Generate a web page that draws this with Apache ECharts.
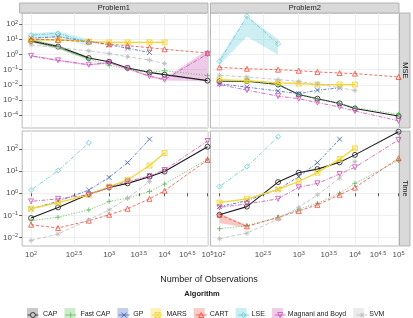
<!DOCTYPE html>
<html>
<head>
<meta charset="utf-8">
<script src="https://cdn.jsdelivr.net/npm/echarts@6/dist/echarts.min.js"></script>
<style>
  html, body { margin: 0; padding: 0; background: #fff; }
  #chart { width: 413px; height: 318px; }
</style>
</head>
<body>
<div id="chart"></div>
<script>
// sample sizes and algorithms
const nObs = [100, 200, 500, 1000, 2000, 5000, 10000, 100000]
const algorithms = ['CAP', 'Fast CAP', 'GP', 'MARS', 'CART', 'LSE', 'Magnani and Boyd', 'SVM']
const xTickExps = [2, 2.5, 3, 3.5, 4, 4.5, 5]
const mseTickExps = [-4, -3, -2, -1, 0, 1, 2]
const timeTickExps = [-2, -1, 0, 1, 2]

// one row per algorithm (same order as above); shorter rows = not run for big n
const mseProblem1 = [
  [7.8, 3.3, 0.58, 0.33, 0.13, 0.066, 0.047, 0.019],
  [9.1, 3.0, 0.50, 0.19, 0.11, 0.066, 0.085, 0.041],
  [11.7, 14.8, 7.1, 4.3, 2.6, 1.35],
  [9.1, 9.1, 7.1, 6.3, 6.3, 6.3, 6.3],
  [10, 9.1, 7.1, 4.7, 3.8, 2.8, 2.2, 1.23],
  [19, 24.5, 6.0],
  [0.81, 0.41, 0.21, 0.29, 0.12, 0.037, 0.022, 1.1],
  [4.3, 2.8, 1.74, 1.15, 0.71, 0.43, 0.25]
]
const mseProblem2 = [
  [0.0174, 0.0174, 0.0105, 0.0023, 0.00123, 0.0006, 0.00028, 0.000089],
  [0.0174, 0.0174, 0.0105, 0.0023, 0.00123, 0.0006, 0.00032, 0.000115],
  [0.0117, 0.0071, 0.0039, 0.0026, 0.0045, 0.0063],
  [0.0224, 0.019, 0.0135, 0.0123, 0.0105, 0.0105, 0.0105],
  [0.141, 0.115, 0.1, 0.085, 0.071, 0.06, 0.055, 0.033],
  [0.35, 331, 5.0],
  [0.0105, 0.0045, 0.0018, 0.00123, 0.00068, 0.00035, 0.00019, 0.000043],
  [0.043, 0.033, 0.0224, 0.0166, 0.0117, 0.0063, 0.0043]
]
const timeProblem1 = [
  [0.076, 0.23, 0.91, 1.82, 2.8, 5.6, 9.5, 126],
  [0.058, 0.083, 0.178, 0.43, 0.60, 1.2, 2.6, 35],
  [0.2, 0.43, 1.4, 5.2, 24, 275],
  [0.2, 0.38, 0.85, 2.0, 4.0, 17.8, 65],
  [0.038, 0.027, 0.058, 0.107, 0.2, 0.56, 1.3, 32],
  [1.4, 10.5, 190],
  [0.43, 0.56, 0.85, 1.82, 3.4, 6.0, 11.2, 229],
  [0.0074, 0.0145, 0.063, 0.178, 0.6, 3.4]
]
const timeProblem2 = [
  [0.107, 0.25, 3.2, 8.5, 12.3, 25, 54, 600],
  [0.025, 0.035, 0.081, 0.19, 0.35, 1.0, 2.8, 30],
  [0.25, 0.46, 1.5, 5.6, 24, 275],
  [0.38, 0.56, 1.5, 3.4, 8.5, 35, 107],
  [0.107, 0.032, 0.081, 0.16, 0.3, 0.85, 1.8, 38],
  [2.0, 15.8, 355],
  [0.23, 0.33, 0.56, 1.86, 2.8, 7.4, 14.8, 257],
  [0.0089, 0.0158, 0.068, 0.23, 0.85, 4.8, 27]
]

// confidence ribbons that are wide enough to see (low / high)
const capBandLowMse1 = [6.3, 2.6, 0.5]
const capBandHighMse1 = [9.5, 4.1, 0.68]
const fastBandLowMse1 = [7.5, 2.3, 0.42]
const fastBandHighMse1 = [11, 3.8, 0.6]
const marsBandLowMse1 = [8, 8, 6.5, 5.8, 5.8, 5.8, 5.8]
const marsBandHighMse1 = [10.3, 10.3, 7.8, 6.9, 6.9, 6.9, 6.9]
const lseBandLowMse1 = [10, 13.5, 3.6]
const lseBandHighMse1 = [25, 32, 10]
const mbBandLowMse1 = [0.7, 0.36, 0.18, 0.25, 0.1, 0.032, 0.019, 0.017]
const mbBandHighMse1 = [0.93, 0.47, 0.24, 0.33, 0.14, 0.043, 0.026, 2.0]
const lseBandLowMse2 = [0.21, 14.8, 0.95]
const lseBandHighMse2 = [0.58, 331, 10]
const cartBandLowTime2 = [0.045, 0.028]
const cartBandHighTime2 = [0.126, 0.036]

const colors = ['#1A1A1A', '#5DBA5B', '#3A5DBA', '#F4D531', '#EE4A3B', '#5BC9D6', '#C64FB3', '#BDBDBD']
const tints = ['#C9C9C9', '#CDEBCD', '#C5CFEB', '#FCF1BF', '#F9CCC6', '#CBEEF2', '#EFCDE9', '#EBEBEB']
const dashes = ['solid', [1.2, 1.5], [3, 1.5, 1, 1.5], 'solid', [3, 2], [1, 1.5, 4, 1.5], [1, 1.5, 4, 1.5], [4, 2]]
const widths = [1.1, 0.8, 0.8, 1.3, 0.8, 0.8, 0.8, 0.8]
const symbols = [
  'circle',
  'path://M5,0L5,10M0,5L10,5',
  'path://M0,0L10,10M10,0L0,10',
  'path://M0,0L10,0L10,10L0,10ZM0,0L10,10M10,0L0,10',
  'triangle',
  'diamond',
  'path://M0,0L10,0L5,9Z',
  'path://M5,0L5,10M0,5L10,5M1.5,1.5L8.5,8.5M8.5,1.5L1.5,8.5'
]
// legend keys: a short line with the marker on it (11 x 5 box)
const keyIcons = [
  'path://M0,2.5L3,2.5M8,2.5L11,2.5M3,2.5A2.5,2.5,0,1,1,8,2.5A2.5,2.5,0,1,1,3,2.5',
  'path://M0,2.5L11,2.5M5.5,0L5.5,5',
  'path://M0,2.5L11,2.5M3,0L8,5M8,0L3,5',
  'path://M0,2.5L11,2.5M3,0L8,0L8,5L3,5ZM3,0L8,5M8,0L3,5',
  'path://M0,2.5L11,2.5M5.5,0L8,5L3,5Z',
  'path://M0,2.5L11,2.5M5.5,0L8,2.5L5.5,5L3,2.5Z',
  'path://M0,2.5L11,2.5M3,0L8,0L5.5,5Z',
  'path://M0,2.5L11,2.5M5.5,0L5.5,5M3.7,0.7L7.3,4.3M7.3,0.7L3.7,4.3'
]

const font = 'Liberation Sans, Arial, sans-serif'
const chart = echarts.init(document.getElementById('chart'), null, { renderer: 'canvas' })

// x axis is log10 n drawn on a log scale
function xPos(n) {
  return Math.log10(Math.log10(n))
}
function sup(exp) {
  return '{b|10}{s|' + String(exp).replace('-', '\u2212') + '}'
}
const supRich = {
  b: { fontSize: 8, color: '#4D4D4D', fontFamily: font },
  s: { fontSize: 5.5, color: '#4D4D4D', fontFamily: font, padding: [0, 0, 4, 0] }
}

const gridPos = [
  { left: 19.5, top: 13 },
  { left: 210.5, top: 13 },
  { left: 19.5, top: 131 },
  { left: 210.5, top: 131 }
]
const grids = gridPos.map(g => ({
  left: g.left, top: g.top, width: 188.5, height: 115,
  show: true, backgroundColor: '#fff', borderColor: '#A6A6A6', borderWidth: 0.8
}))

const xTickVals = xTickExps.map(e => Math.log10(e))
const xAxes = [0, 1, 2, 3].map(i => {
  const bottom = i >= 2
  return {
    type: 'value', gridIndex: i, min: 0.281, max: 0.700,
    axisLine: { show: false },
    axisTick: { show: bottom, customValues: xTickVals, length: 3, lineStyle: { color: '#333', width: 0.8 } },
    axisLabel: {
      show: bottom, customValues: xTickVals, margin: 4, rich: supRich,
      formatter: v => sup(Math.round(Math.pow(10, v) * 10) / 10)
    },
    splitLine: { show: true, lineStyle: { color: '#EBEBEB', width: 0.8 } }
  }
})
const yAxes = [0, 1, 2, 3].map(i => {
  const left = i % 2 === 0
  const isMse = i < 2
  const ticks = isMse ? mseTickExps : timeTickExps
  return {
    type: 'value', gridIndex: i,
    min: isMse ? -4.84 : -2.38, max: isMse ? 2.73 : 2.81,
    axisLine: { show: false },
    axisTick: { show: left, customValues: ticks, length: 3, lineStyle: { color: '#333', width: 0.8 } },
    axisLabel: { show: left, customValues: ticks, margin: 4, rich: supRich, formatter: v => sup(v) },
    splitLine: { show: true, lineStyle: { color: '#EBEBEB', width: 0.8 } }
  }
})

const panelData = [mseProblem1, mseProblem2, timeProblem1, timeProblem2]
const series = []

function band(grid, algIdx, low, high) {
  const xs = nObs.slice(0, low.length).map(xPos)
  series.push({
    type: 'custom', xAxisIndex: grid, yAxisIndex: grid, silent: true, z: 1, clip: true,
    data: [0],
    renderItem: (params, api) => {
      const top = xs.map((x, k) => api.coord([x, Math.log10(high[k])]))
      const bot = xs.map((x, k) => api.coord([x, Math.log10(low[k])])).reverse()
      return { type: 'polygon', shape: { points: top.concat(bot) }, style: { fill: colors[algIdx], opacity: 0.3 } }
    }
  })
}
band(0, 0, capBandLowMse1, capBandHighMse1)
band(0, 1, fastBandLowMse1, fastBandHighMse1)
band(0, 3, marsBandLowMse1, marsBandHighMse1)
band(0, 5, lseBandLowMse1, lseBandHighMse1)
band(0, 6, mbBandLowMse1, mbBandHighMse1)
band(1, 5, lseBandLowMse2, lseBandHighMse2)
band(3, 4, cartBandLowTime2, cartBandHighTime2)

panelData.forEach((rows, g) => {
  rows.forEach((vals, a) => {
    series.push({
      name: algorithms[a], type: 'line', xAxisIndex: g, yAxisIndex: g, z: 2 + a,
      data: vals.map((v, k) => [xPos(nObs[k]), Math.log10(v)]),
      symbol: symbols[a], symbolSize: 5, showSymbol: true,
      lineStyle: { color: colors[a], width: widths[a], type: dashes[a] },
      itemStyle: { color: 'rgba(0,0,0,0)', borderColor: colors[a], borderWidth: 0.8 },
      emphasis: { disabled: true },
      animation: false
    })
  })
})

const legendText = { fontSize: 7, fontFamily: font, color: '#1A1A1A' }
const option = {
  animation: false,
  grid: grids,
  xAxis: xAxes,
  yAxis: yAxes,
  series: series,
  legend: [
    {
      left: 22, top: 303, itemWidth: 11, itemHeight: 12, itemGap: 7, icon: 'rect',
      textStyle: legendText, selectedMode: false,
      data: algorithms.map((name, i) => ({ name: name, itemStyle: { color: tints[i], borderWidth: 0 } }))
    },
    {
      left: 22, top: 306.5, itemWidth: 11, itemHeight: 5, itemGap: 7, z: 5,
      textStyle: Object.assign({}, legendText, { color: 'rgba(0,0,0,0)' }), selectedMode: false,
      data: algorithms.map((name, i) => ({
        name: name, icon: keyIcons[i],
        itemStyle: { color: 'rgba(0,0,0,0)', borderColor: colors[i], borderWidth: 0.8 }
      }))
    }
  ],
  graphic: [
    { type: 'rect', shape: { x: 19.5, y: 3, width: 188.5, height: 10 }, style: { fill: '#D9D9D9', stroke: '#A6A6A6', lineWidth: 0.8 } },
    { type: 'rect', shape: { x: 210.5, y: 3, width: 188.5, height: 10 }, style: { fill: '#D9D9D9', stroke: '#A6A6A6', lineWidth: 0.8 } },
    { type: 'rect', shape: { x: 399.5, y: 13, width: 10.5, height: 115 }, style: { fill: '#D9D9D9', stroke: '#A6A6A6', lineWidth: 0.8 } },
    { type: 'rect', shape: { x: 399.5, y: 131, width: 10.5, height: 115 }, style: { fill: '#D9D9D9', stroke: '#A6A6A6', lineWidth: 0.8 } },
    { type: 'text', x: 113.75, y: 8.2, style: { text: 'Problem1', fontSize: 7.5, fontFamily: font, fill: '#1A1A1A', align: 'center', verticalAlign: 'middle' } },
    { type: 'text', x: 304.75, y: 8.2, style: { text: 'Problem2', fontSize: 7.5, fontFamily: font, fill: '#1A1A1A', align: 'center', verticalAlign: 'middle' } },
    { type: 'text', x: 404.8, y: 70.5, rotation: -Math.PI / 2, style: { text: 'MSE', fontSize: 7.5, fontFamily: font, fill: '#1A1A1A', align: 'center', verticalAlign: 'middle' } },
    { type: 'text', x: 404.8, y: 188.5, rotation: -Math.PI / 2, style: { text: 'Time', fontSize: 7.5, fontFamily: font, fill: '#1A1A1A', align: 'center', verticalAlign: 'middle' } },
    { type: 'text', x: 209, y: 280, style: { text: 'Number of Observations', fontSize: 9, fontFamily: font, fill: '#1A1A1A', align: 'center', verticalAlign: 'middle' } },
    { type: 'text', x: 202, y: 294, style: { text: 'Algorithm', fontSize: 7.5, fontWeight: 'bold', fontFamily: font, fill: '#1A1A1A', align: 'center', verticalAlign: 'middle' } }
  ]
}
chart.setOption(option)
</script>
</body>
</html>
